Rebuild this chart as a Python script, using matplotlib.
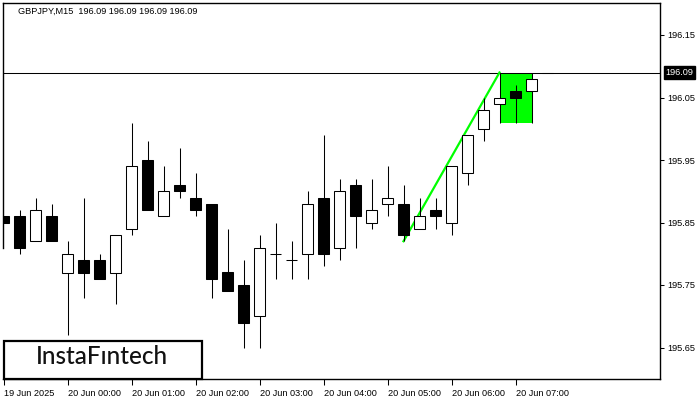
import matplotlib
matplotlib.use("Agg")
import matplotlib.pyplot as plt
import matplotlib.transforms as mtransforms
from matplotlib.patches import Rectangle

# GBPJPY M15 candles (index 0 = 19 Jun 23:00)
opens = [195.86, 195.86, 195.82, 195.86, 195.77, 195.79, 195.79, 195.77, 195.84, 195.95,
         195.86, 195.91, 195.89, 195.88, 195.77, 195.75, 195.70, 195.80, 195.79, 195.80,
         195.89, 195.81, 195.91, 195.85, 195.88, 195.88, 195.84, 195.87, 195.85, 195.93,
         196.00, 196.04, 196.06, 196.06, 196.09]
highs = [195.86, 195.87, 195.89, 195.88, 195.82, 195.89, 195.80, 195.83, 196.01, 195.98,
         195.94, 195.97, 195.93, 195.88, 195.84, 195.79, 195.83, 195.85, 195.82, 195.90,
         195.99, 195.92, 195.92, 195.92, 195.94, 195.91, 195.89, 195.89, 195.94, 195.99,
         196.05, 196.09, 196.07, 196.09, 196.09]
lows = [195.85, 195.80, 195.82, 195.82, 195.67, 195.73, 195.76, 195.72, 195.83, 195.87,
        195.86, 195.89, 195.86, 195.73, 195.74, 195.65, 195.65, 195.76, 195.76, 195.76,
        195.78, 195.79, 195.81, 195.84, 195.86, 195.82, 195.84, 195.84, 195.83, 195.91,
        195.98, 196.01, 196.01, 196.01, 196.09]
closes = [195.85, 195.81, 195.87, 195.82, 195.80, 195.77, 195.76, 195.83, 195.94, 195.87,
          195.90, 195.90, 195.87, 195.76, 195.74, 195.69, 195.81, 195.80, 195.79, 195.88,
          195.80, 195.90, 195.86, 195.87, 195.89, 195.83, 195.86, 195.86, 195.94, 195.99,
          196.03, 196.05, 196.05, 196.08, 196.09]

xtick_pos = [0, 4, 8, 12, 16, 20, 24, 28, 32]
xtick_labels = ['19 Jun 2025', '20 Jun 00:00', '20 Jun 01:00', '20 Jun 02:00', '20 Jun 03:00',
                '20 Jun 04:00', '20 Jun 05:00', '20 Jun 06:00', '20 Jun 07:00']
ytick_vals = [195.65, 195.75, 195.85, 195.95, 196.05, 196.15]

current_price = 196.09
pole_start = (25, 195.82)
pole_end = (31, 196.09)
flag_x = (31, 33)
flag_y = (196.01, 196.09)

fig = plt.figure(figsize=(7, 4), dpi=100)
ax = fig.add_axes([2.5 / 700, 21 / 400, 657 / 700, 376.5 / 400])
ax.set_xlim(-0.0625, 41.0)
ax.set_ylim(195.5996, 196.202)

lw = 0.75
# flag rectangle
ax.add_patch(Rectangle((flag_x[0], flag_y[0]), flag_x[1] - flag_x[0], flag_y[1] - flag_y[0],
                       facecolor='#00ff00', edgecolor='none', zorder=1))
# current price line
ax.axhline(current_price, color='black', lw=lw, zorder=2)
# pole
ax.plot([pole_start[0], pole_end[0]], [pole_start[1], pole_end[1]], color='#00ff00', lw=1.6, zorder=2)

w = 0.64
for i in range(len(opens)):
    o, h, l, c = opens[i], highs[i], lows[i], closes[i]
    ax.vlines(i, l, h, color='black', lw=lw, zorder=3)
    lo, hi = min(o, c), max(o, c)
    if hi - lo < 0.001:
        ax.hlines(o, i - w / 2, i + w / 2, color='black', lw=lw, zorder=4)
    else:
        face = 'white' if c > o else 'black'
        ax.add_patch(Rectangle((i - w / 2, lo), w, hi - lo, facecolor=face,
                               edgecolor='black', lw=lw, zorder=4))

for s in ['top', 'right', 'bottom']:
    ax.spines[s].set_linewidth(1.0)
ax.spines['left'].set_visible(False)
# left frame line only down to about 195.81, as in the screenshot
ax.plot([-0.06, -0.06], [195.81, 196.202], color='black', lw=1.0, zorder=5, clip_on=False)

ax.yaxis.tick_right()
ax.set_yticks(ytick_vals)
ax.set_yticklabels([f'{v:.2f}' for v in ytick_vals])
ax.tick_params(axis='y', direction='out', length=3, width=0.75, pad=2.5, labelsize=6.6)
ax.set_xticks(xtick_pos)
ax.set_xticklabels(xtick_labels)
ax.tick_params(axis='x', direction='out', length=4, width=0.75, pad=3, labelsize=6.6)
for t in ax.get_xticklabels():
    t.set_horizontalalignment('left')
    t.set_fontfamily('Liberation Sans')
for t in ax.get_yticklabels():
    t.set_fontfamily('Liberation Sans')

# current price label on the axis
trans = mtransforms.blended_transform_factory(ax.transAxes, ax.transData)
ax.text(1.0095, current_price, f'{current_price:.2f}', transform=trans, ha='left', va='center',
        color='white', fontsize=6.6, family='Liberation Sans',
        bbox=dict(facecolor='black', edgecolor='black', pad=1.3), clip_on=False)

# header
fig.text(18 / 700, 1 - 11 / 400, 'GBPJPY,M15  196.09 196.09 196.09 196.09', ha='left', va='center',
         fontsize=6.6, family='Liberation Sans')

# logo box
fig.patches.append(Rectangle((3.5 / 700, 21 / 400), 198 / 700, 38 / 400, transform=fig.transFigure,
                             facecolor='white', edgecolor='black', lw=1.6, zorder=10))
fig.text(101.5 / 700, 1 - 357 / 400, 'InstaF\u0131ntech', ha='center', va='center',
         fontsize=17.5, family='Lato', weight='medium', color='#111111', zorder=11)

fig.savefig('out.png', dpi=100)
